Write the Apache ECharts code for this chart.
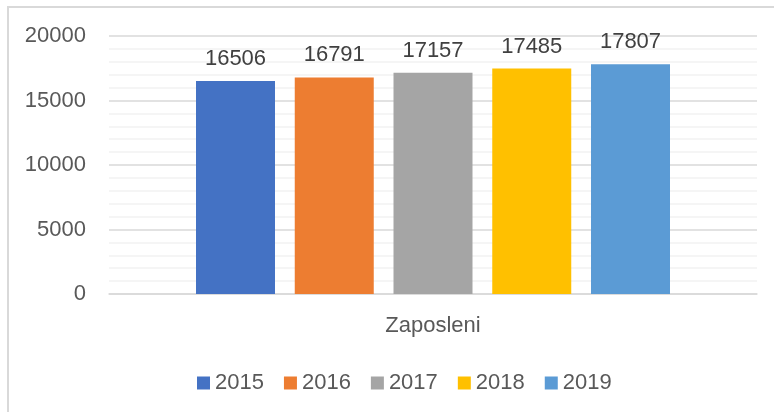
<!DOCTYPE html>
<html>
<head>
<meta charset="utf-8">
<script src="https://cdn.jsdelivr.net/npm/echarts@6/dist/echarts.min.js"></script>
<style>
  html, body { margin: 0; padding: 0; background: #fff; }
  #chart { width: 774px; height: 412px; }
</style>
</head>
<body>
<div id="chart"></div>
<script>
// podaci
const categories = ["Zaposleni"];
const years = ["2015", "2016", "2017", "2018", "2019"];
const values = [16506, 16791, 17157, 17485, 17807];
const colors = ["#4472C4", "#ED7D31", "#A5A5A5", "#FFC000", "#5B9BD5"];
const yTicks = [0, 5000, 10000, 15000, 20000];

const font = "Liberation Sans";

let chart = echarts.init(document.getElementById("chart"));

let series = years.map((y, i) => ({
  name: y,
  type: "bar",
  data: [values[i]],
  barWidth: 79,
  barGap: "25%",
  itemStyle: { color: colors[i] },
  label: {
    show: true,
    position: "top",
    distance: 11,
    color: "#404040",
    fontFamily: font,
    fontSize: 22,
  },
}));

let option = {
  animation: false,
  backgroundColor: "#fff",
  graphic: [
    {
      type: "rect",
      shape: { x: 8, y: 7, width: 800, height: 450 },
      style: { fill: "none", stroke: "#d9d9d9", lineWidth: 2 },
      silent: true,
    },
  ],
  grid: { left: 109, right: 17, top: 36, bottom: 118 },
  legend: {
    data: years,
    left: 192,
    top: 367,
    itemWidth: 13,
    itemHeight: 13,
    itemGap: 20,
    icon: "rect",
    textStyle: { color: "#595959", fontFamily: font, fontSize: 22, padding: [0, 0, 0, 0] },
  },
  xAxis: {
    type: "category",
    data: categories,
    axisLine: { lineStyle: { color: "#d9d9d9", width: 1.5 } },
    axisTick: { show: false },
    axisLabel: { color: "#595959", fontFamily: font, fontSize: 22, margin: 21 },
  },
  yAxis: {
    type: "value",
    min: yTicks[0],
    max: yTicks[yTicks.length - 1],
    interval: 5000,
    axisLine: { show: false },
    axisTick: { show: false },
    axisLabel: {
      color: "#595959",
      fontFamily: font,
      fontSize: 22,
      margin: 23,
      formatter: (v) => String(v),
    },
    splitLine: { lineStyle: { color: "#d9d9d9", width: 1.5 } },
    minorTick: { show: false, splitNumber: 5 },
    minorSplitLine: { show: true, lineStyle: { color: "#f2f2f2", width: 1.5 } },
  },
  series: series,
};

chart.setOption(option);
</script>
</body>
</html>
